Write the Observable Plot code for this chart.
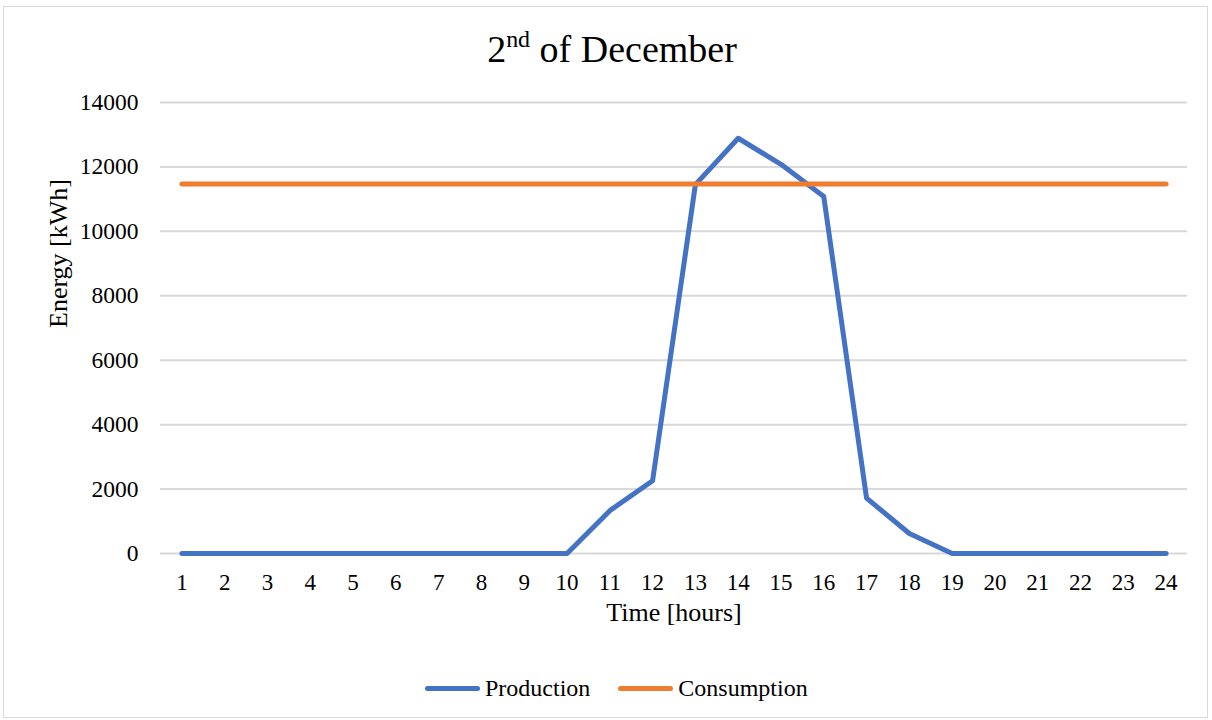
<!DOCTYPE html>
<html>
<head>
<meta charset="utf-8">
<script src="https://cdn.jsdelivr.net/npm/d3@7"></script>
<script src="https://cdn.jsdelivr.net/npm/@observablehq/plot@0.6"></script>
<style>
  html, body { margin: 0; padding: 0; background: #fff; }
  body, #wrap, #legend, #title { font-family: "Liberation Serif", "Times New Roman", serif; color: #000; }
  svg, svg text { font-family: "Liberation Serif", "Times New Roman", serif !important; }
  #wrap { position: relative; width: 1212px; height: 720px; overflow: hidden; }
  #frame { position: absolute; left: 3px; top: 6px; width: 1205px; height: 712px; border: 1px solid #d9d9d9; box-sizing: border-box; }
  #title { position: absolute; left: 6px; top: 30px; width: 1212px; text-align: center; font-size: 38px; line-height: 38px; white-space: nowrap; }
  #title sup { font-size: 0.63em; line-height: 0; vertical-align: 0.62em; }
  #chart { position: absolute; left: 0; top: 80px; }
  #legend { position: absolute; left: 425px; top: 674px; display: flex; align-items: center; font-size: 24px; line-height: 28px; white-space: nowrap; }
  .item { display: flex; align-items: center; margin-right: 28px; }
  .sw { width: 55px; height: 5px; border-radius: 3px; margin-right: 5px; }
</style>
</head>
<body>
<div id="wrap">
  <div id="frame"></div>
  <div id="title">2<sup>nd</sup> of December</div>
  <div id="chart"></div>
  <div id="legend"></div>
</div>
<script>
const hours = [1, 2, 3, 4, 5, 6, 7, 8, 9, 10, 11, 12, 13, 14, 15, 16, 17, 18, 19, 20, 21, 22, 23, 24];
const production = [0, 0, 0, 0, 0, 0, 0, 0, 0, 0, 1330, 2260, 11450, 12890, 12080, 11080, 1720, 620, 0, 0, 0, 0, 0, 0];
const consumption = [11470, 11470, 11470, 11470, 11470, 11470, 11470, 11470, 11470, 11470, 11470, 11470, 11470, 11470, 11470, 11470, 11470, 11470, 11470, 11470, 11470, 11470, 11470, 11470];
const seriesNames = ["Production", "Consumption"];
const seriesColors = ["#4472C4", "#ED7D31"];
const yTicks = [0, 2000, 4000, 6000, 8000, 10000, 12000, 14000];

const serif = '"Liberation Serif", "Times New Roman", serif';

const rows = [];
hours.forEach((h, i) => {
  rows.push({hour: h, energy: production[i], series: seriesNames[0]});
});
hours.forEach((h, i) => {
  rows.push({hour: h, energy: consumption[i], series: seriesNames[1]});
});

const chart = Plot.plot({
  width: 1212,
  height: 570,
  marginTop: 22,
  marginBottom: 97,
  marginLeft: 160,
  marginRight: 25,
  style: {fontFamily: serif, fontSize: "23px", color: "#000", background: "transparent", overflow: "visible"},
  x: {domain: [0.5, 24.5]},
  y: {domain: [0, 14000]},
  color: {domain: seriesNames, range: seriesColors},
  marks: [
    Plot.ruleY(yTicks, {stroke: "#d9d9d9", strokeWidth: 2}),
    Plot.axisX({ticks: hours, tickFormat: d => String(d), tickSize: 0, tickPadding: 20, label: null, fontSize: 23, fontFamily: serif}),
    Plot.axisY({ticks: yTicks, tickFormat: d => String(d), tickSize: 0, tickPadding: 22, label: null, fontSize: 23.5, fontFamily: serif}),
    Plot.lineY(rows, {x: "hour", y: "energy", z: "series", stroke: "series", strokeWidth: 5, strokeLinecap: "round", strokeLinejoin: "round"}),
    Plot.text(["Time [hours]"], {frameAnchor: "bottom", dy: 67, fontSize: 26, fontFamily: serif, fill: "#000"}),
    Plot.text(["Energy [kWh]"], {frameAnchor: "left", dx: -102, rotate: -90, fontSize: 26, fontFamily: serif, fill: "#000"})
  ]
});
document.getElementById("chart").appendChild(chart);

const legend = document.getElementById("legend");
seriesNames.forEach((name, i) => {
  const item = document.createElement("div");
  item.className = "item";
  const sw = document.createElement("div");
  sw.className = "sw";
  sw.style.background = seriesColors[i];
  const label = document.createElement("span");
  label.textContent = name;
  item.appendChild(sw);
  item.appendChild(label);
  legend.appendChild(item);
});
</script>
</body>
</html>
